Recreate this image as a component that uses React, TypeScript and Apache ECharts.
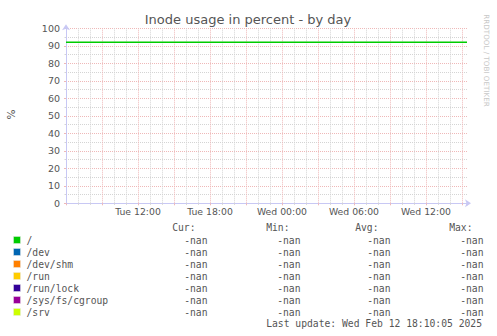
import React, { useEffect, useRef } from "react";
import * as echarts from "echarts";

// ---- data ----
const chartTitle = "Inode usage in percent - by day";
const yAxisName = "%";
// hours elapsed since Tue 06:00
const xMin = 0;
const xMax = 33.42;
const xTickHours = [6, 12, 18, 24, 30];
const xTickLabels = ["Tue 12:00", "Tue 18:00", "Wed 00:00", "Wed 06:00", "Wed 12:00"];
const yTicks = [0, 10, 20, 30, 40, 50, 60, 70, 80, 90, 100];

const seriesNames = ["/", "/dev", "/dev/shm", "/run", "/run/lock", "/sys/fs/cgroup", "/srv"];
const seriesColors = ["#00cc00", "#0066b3", "#ff8000", "#ffcc00", "#330099", "#990099", "#ccff00"];
const rootHours = [0, 6, 12, 18, 24, 30, 33.42];
const rootValues = [92, 92, 92, 92, 92, 92, 92];
const curValues = ["-nan", "-nan", "-nan", "-nan", "-nan", "-nan", "-nan"];
const minValues = ["-nan", "-nan", "-nan", "-nan", "-nan", "-nan", "-nan"];
const avgValues = ["-nan", "-nan", "-nan", "-nan", "-nan", "-nan", "-nan"];
const maxValues = ["-nan", "-nan", "-nan", "-nan", "-nan", "-nan", "-nan"];
const columnHeaders = ["Cur:", "Min:", "Avg:", "Max:"];
const lastUpdate = "Last update: Wed Feb 12 18:10:05 2025";
const watermark = "RRDTOOL / TOBI OETIKER";

const MAJOR = "#efb8b8";
const MINOR = "#d4d4d4";
const AXIS = "#c8c8f4";
const TEXT = "#555555";
const MONO = "'DejaVu Sans Mono', monospace";
const SANS = "'DejaVu Sans', sans-serif";

export default function App() {
  const ref = useRef<HTMLDivElement>(null);

  useEffect(() => {
    if (!ref.current) return;
    const chart = echarts.init(ref.current, null, { renderer: "svg" });

    const seriesList: any[] = seriesNames.map((name, i) => ({
      name,
      type: "line",
      symbol: "none",
      data: i === 0 ? rootHours.map((h, k) => [h, rootValues[k]]) : [],
      lineStyle: { color: seriesColors[i], width: 1.5 },
      itemStyle: { color: seriesColors[i] },
      z: 5,
    }));

    const colHeaderRight = [195.5, 289.5, 378.5, 472.5];
    const colValRight = [207.5, 300.5, 390.5, 483.5];
    const cols = [curValues, minValues, avgValues, maxValues];

    const graphics: any[] = [];
    graphics.push({
      type: "text",
      x: 248,
      y: 19.5,
      style: { text: chartTitle, font: `13px ${SANS}`, fill: TEXT, align: "center", verticalAlign: "middle" },
    });
    graphics.push({
      type: "text",
      x: 10.5,
      y: 114.5,
      rotation: Math.PI / 2,
      style: { text: yAxisName, font: `10.5px ${SANS}`, fill: TEXT, align: "center", verticalAlign: "middle" },
    });
    graphics.push({
      type: "text",
      x: 486.7,
      y: 60.5,
      rotation: -Math.PI / 2,
      style: { text: watermark, font: `7.2px ${SANS}`, fill: "#c8c8c8", align: "center", verticalAlign: "middle" },
    });
    columnHeaders.forEach((h, c) => {
      graphics.push({
        type: "text",
        x: colHeaderRight[c],
        y: 227.5,
        style: { text: h, font: `9.7px ${MONO}`, fill: TEXT, align: "right", verticalAlign: "middle" },
      });
    });
    seriesNames.forEach((name, i) => {
      const y = 240 + 12 * i;
      graphics.push({
        type: "rect",
        shape: { x: 13.5, y: y - 3.5, width: 7, height: 7 },
        style: { fill: seriesColors[i], stroke: "#e8e8e8", lineWidth: 0.5 },
      });
      graphics.push({
        type: "text",
        x: 26.5,
        y,
        style: { text: name, font: `9.7px ${MONO}`, fill: TEXT, align: "left", verticalAlign: "middle" },
      });
      cols.forEach((arr, c) => {
        graphics.push({
          type: "text",
          x: colValRight[c],
          y,
          style: { text: arr[i], font: `9.7px ${MONO}`, fill: TEXT, align: "right", verticalAlign: "middle" },
        });
      });
    });
    graphics.push({
      type: "text",
      x: 482,
      y: 323.5,
      style: { text: lastUpdate, font: `9.7px ${MONO}`, fill: TEXT, align: "right", verticalAlign: "middle" },
    });

    const option: any = {
      animation: false,
      backgroundColor: "#ffffff",
      grid: { left: 66, top: 28.3, width: 401, height: 175, containLabel: false },
      xAxis: {
        type: "value",
        min: xMin,
        max: xMax,
        interval: 3,
        axisLine: {
          show: true,
          lineStyle: { color: AXIS, width: 1 },
          symbol: ["none", "arrow"],
          symbolSize: [6, 6],
          symbolOffset: [0, 4],
        },
        axisTick: { show: true, length: 2, lineStyle: { color: MAJOR } },
        minorTick: { show: true, splitNumber: 3, length: 1.5, lineStyle: { color: MINOR } },
        axisLabel: {
          show: true,
          margin: 4,
          fontFamily: SANS,
          fontSize: 9.3,
          color: TEXT,
          showMinLabel: false,
          showMaxLabel: false,
          formatter: (v: number) => {
            const idx = xTickHours.findIndex((h) => Math.abs(h - v) < 1e-6);
            return idx >= 0 ? xTickLabels[idx] : "";
          },
        },
        splitLine: { show: true, showMinLine: false, showMaxLine: false, lineStyle: { color: MAJOR, type: "dotted", width: 1 } },
        minorSplitLine: { show: true, lineStyle: { color: MINOR, type: "dotted", width: 1 } },
      },
      yAxis: {
        type: "value",
        min: yTicks[0],
        max: yTicks[yTicks.length - 1],
        interval: 10,
        axisLine: {
          show: true,
          lineStyle: { color: AXIS, width: 1 },
          symbol: ["none", "arrow"],
          symbolSize: [6, 6],
          symbolOffset: [0, 4],
        },
        axisTick: { show: true, length: 2, lineStyle: { color: MAJOR } },
        minorTick: { show: true, splitNumber: 2, length: 1.5, lineStyle: { color: MINOR } },
        axisLabel: { show: true, margin: 6, fontFamily: SANS, fontSize: 9.5, color: TEXT },
        splitLine: { show: true, showMinLine: false, lineStyle: { color: MAJOR, type: "dotted", width: 1 } },
        minorSplitLine: { show: true, lineStyle: { color: MINOR, type: "dotted", width: 1 } },
      },
      series: seriesList,
      graphic: graphics,
    };

    chart.setOption(option);
    return () => chart.dispose();
  }, []);

  return (
    <div
      ref={ref}
      style={{ position: "fixed", left: 0, top: 0, width: 497, height: 336, background: "#ffffff" }}
    />
  );
}
